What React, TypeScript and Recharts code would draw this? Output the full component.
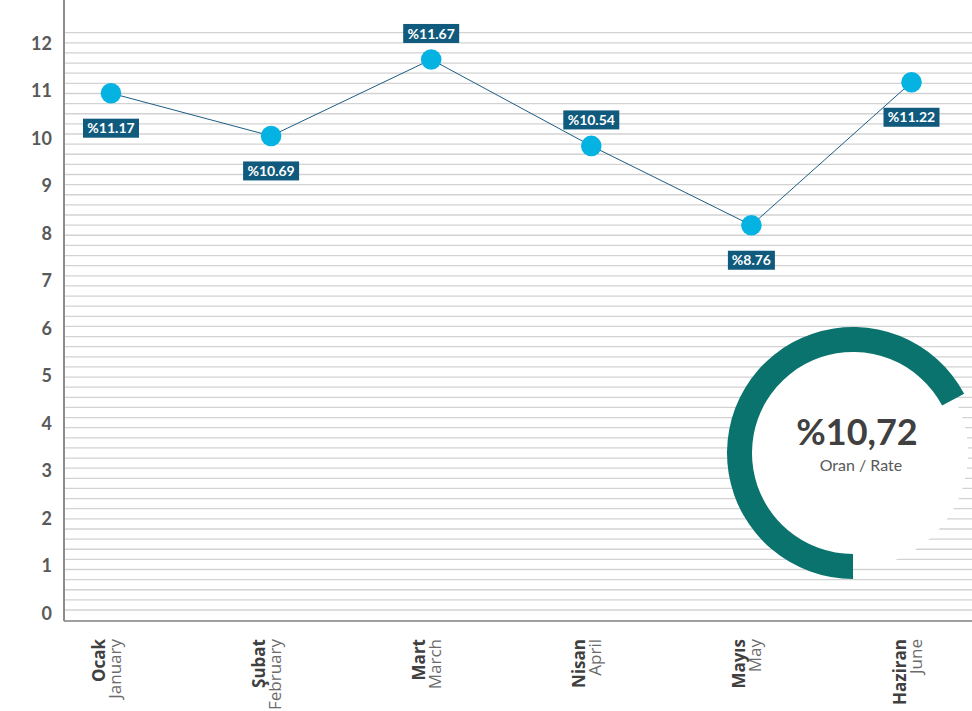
import {
  LineChart,
  Line,
  XAxis,
  YAxis,
  CartesianGrid,
  LabelList,
  PieChart,
  Pie,
  Cell,
  Label,
} from "recharts";

const monthsTr = ["Ocak", "Şubat", "Mart", "Nisan", "Mayıs", "Haziran"];
const monthsEn = ["January", "February", "March", "April", "May", "June"];
const rateValues = [10.95, 10.05, 11.66, 9.84, 8.17, 11.18];
const rateLabels = ["%11.17", "%10.69", "%11.67", "%10.54", "%8.76", "%11.22"];
const labelSide = ["below", "below", "above", "above", "below", "below"];
const yTicks = [0, 1, 2, 3, 4, 5, 6, 7, 8, 9, 10, 11, 12];

// background ruling: 58 thin lines, independent of the value ticks
const gridRowCount = 58;
const gridRange = [-1.086, 60.23];

const averageRate = "%10,72";
const averageCaption = "Oran / Rate";
const ringShare = [67.2, 32.8];

const data = monthsTr.map((m, i) => ({
  month: m,
  rate: rateValues[i],
  label: rateLabels[i],
}));

const ringData = ringShare.map((v, i) => ({ name: i === 0 ? "rate" : "rest", value: v }));

const FONT = "Lato, 'Open Sans', sans-serif";

function gridRows(args: any) {
  const offset = args?.offset ?? {};
  const [lo, hi] = gridRange;
  const rows: number[] = [];
  for (let t = 0; t < gridRowCount; t++) {
    rows.push(offset.top + (offset.height * (hi - t)) / (hi - lo));
  }
  return rows;
}

function MonthTick(props: any) {
  const { x, y, payload, index } = props;
  const i = typeof index === "number" ? index : monthsTr.indexOf(payload.value);
  return (
    <g transform={`translate(${x},${y})`}>
      <text
        transform="rotate(-90)"
        x={-18}
        y={-6}
        textAnchor="end"
        fontFamily="'Open Sans', sans-serif"
        fontWeight={700}
        fontSize={17}
        fill="#404040"
      >
        {payload.value}
      </text>
      <text
        transform="rotate(-90)"
        x={-18}
        y={10}
        textAnchor="end"
        fontFamily="'Open Sans', sans-serif"
        fontWeight={400}
        fontSize={17}
        fill="#6b6b6b"
      >
        {monthsEn[i]}
      </text>
    </g>
  );
}

function RateBadge(props: any) {
  const px = props.x ?? props.viewBox?.x;
  const py = props.y ?? props.viewBox?.y;
  const idx = typeof props.index === "number" ? props.index : rateLabels.indexOf(props.value);
  const text = String(props.value);
  const w = text.length * 9 + 2;
  const h = 19;
  const cy = labelSide[idx] === "above" ? py - 26 : py + 35;
  return (
    <g>
      <rect x={px - w / 2} y={cy - h / 2} width={w} height={h} fill="#0f5a7d" />
      <text
        x={px}
        y={cy}
        dy="0.36em"
        textAnchor="middle"
        fill="#ffffff"
        fontFamily={FONT}
        fontWeight={700}
        fontSize={14}
      >
        {text}
      </text>
    </g>
  );
}

function CenterText(props: any) {
  const cx = props.viewBox?.cx ?? 853;
  const cy = props.viewBox?.cy ?? 453;
  return (
    <g>
      <text x={cx + 4} y={cy - 21} dy="0.36em" textAnchor="middle" fontFamily={FONT} fontWeight={700} fontSize={36} fill="#404040">
        {averageRate}
      </text>
      <text x={cx + 8} y={cy + 12} dy="0.36em" textAnchor="middle" fontFamily={FONT} fontSize={16} fill="#595959">
        {averageCaption}
      </text>
    </g>
  );
}

export default function App() {
  return (
    <div style={{ position: "fixed", left: 0, top: 0, width: 972, height: 711, background: "#fff" }}>
      <LineChart width={972} height={711} data={data} margin={{ top: 0, right: 0, bottom: 0, left: 0 }}>
        <CartesianGrid
          vertical={false}
          stroke="#d2d2d2"
          strokeWidth={1.3}
          horizontalCoordinatesGenerator={gridRows}
        />
        <XAxis
          dataKey="month"
          scale="point"
          padding={{ left: 47, right: 60.5 }}
          height={90}
          interval={0}
          tickSize={0}
          tickMargin={0}
          tick={<MonthTick />}
          axisLine={{ stroke: "#7f7f7f", strokeWidth: 1.5 }}
        />
        <YAxis
          type="number"
          width={64}
          domain={[-0.162, 12.912]}
          ticks={yTicks}
          interval={0}
          allowDataOverflow
          tickLine={false}
          tickSize={0}
          tickMargin={12}
          axisLine={{ stroke: "#8c8c8c", strokeWidth: 2 }}
          tick={{ fontFamily: FONT, fontWeight: 700, fontSize: 18, fill: "#595959" }}
        />
        <Line
          type="linear"
          dataKey="rate"
          stroke="#1d5c84"
          strokeWidth={1}
          dot={{ r: 10.3, fill: "#05b3e3", stroke: "none" }}
          activeDot={false}
          isAnimationActive={false}
        >
          <LabelList dataKey="label" content={<RateBadge />} />
        </Line>
      </LineChart>
      <div style={{ position: "absolute", left: 0, top: 0 }}>
        <PieChart width={972} height={711} margin={{ top: 0, right: 0, bottom: 0, left: 0 }}>
          <Pie
            data={[{ name: "disk", value: 1 }]}
            dataKey="value"
            cx={853}
            cy={453}
            innerRadius={0}
            outerRadius={115}
            fill="#ffffff"
            stroke="none"
            isAnimationActive={false}
          />
          <Pie
            data={ringData}
            dataKey="value"
            cx={853}
            cy={453}
            innerRadius={101}
            outerRadius={126}
            startAngle={270}
            endAngle={-90}
            stroke="none"
            isAnimationActive={false}
          >
            {ringData.map((d, i) => (
              <Cell key={d.name} fill={i === 0 ? "#0a736d" : "transparent"} />
            ))}
            <Label position="center" content={<CenterText />} />
          </Pie>
        </PieChart>
      </div>
    </div>
  );
}
